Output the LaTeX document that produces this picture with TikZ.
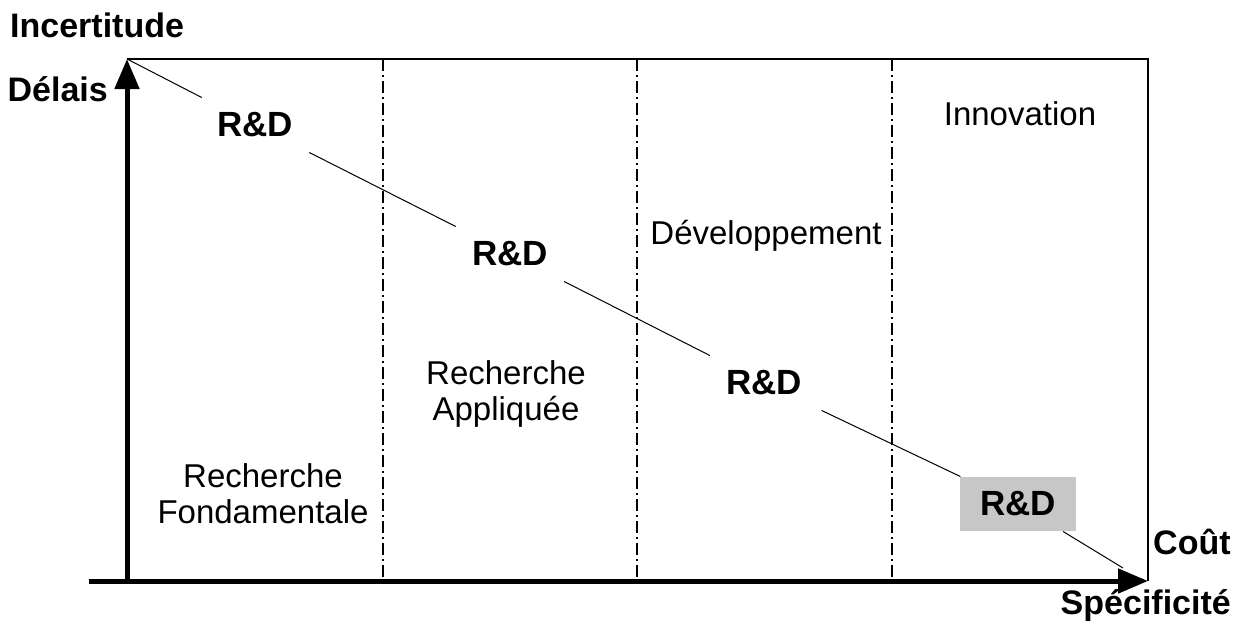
\documentclass[tikz,border=0pt]{standalone}
\usepackage{fontspec}
\setmainfont{Liberation Sans}
\usetikzlibrary{arrows.meta}
\tikzset{
  frame/.style={line width=2.4pt},
  sep/.style={line width=1.5pt, dash pattern=on 12pt off 4pt on 2pt off 4pt},
  axis/.style={line width=5pt, -{Triangle[length=30pt,width=24pt]}},
  diag/.style={line width=1pt},
  lbl/.style={font=\fontsize{33}{36}\selectfont, align=center, inner sep=0pt},
  blbl/.style={font=\fontsize{34}{36}\selectfont\bfseries, inner sep=0pt},
  rd/.style={font=\fontsize{35}{36}\selectfont\bfseries, inner xsep=20pt, inner ysep=15pt},
  rdgray/.style={rd, fill=black!22}
}
\begin{document}
\begin{tikzpicture}[x=1pt,y=-1pt]
\useasboundingbox (0,0) rectangle (1250,627);
\coordinate (tl) at (127,59);
\coordinate (tr) at (1148,59);
\coordinate (br) at (1148,581);
\coordinate (bl) at (127,581);
\coordinate (xs) at (89,581);
\coordinate (de) at (1123,568);
% frame
\draw[frame] (tl) -- (tr) -- (br);
% separators
\foreach \x/\n in {383/a,637/b,892/c}{
  \coordinate (s\n t) at (\x,59);
  \coordinate (s\n b) at (\x,581);
  \draw[sep] (s\n t) -- (s\n b);
}
% R&D nodes
\node[rd] (rd1) at (255,125) {R\&D};
\node[rd] (rd2) at (510,254) {R\&D};
\node[rd] (rd3) at (764,383) {R\&D};
\node[rdgray] (rd4) at (1018,504) {R\&D};
% diagonal
\draw[diag] (tl) -- (rd1);
\draw[diag] (rd1) -- (rd2);
\draw[diag] (rd2) -- (rd3);
\draw[diag] (rd3) -- (rd4);
\draw[diag] (rd4) -- (de);
% axes
\draw[axis] (xs) -- (br);
\draw[axis] (bl) -- (tl);
% phase labels
\node[lbl] (inno) at (1020,114) {Innovation};
\node[lbl] (dev) at (766,236) {Développement};
\node[lbl] (ra) at (506,394) {Recherche\\Appliquée};
\node[lbl] (rf) at (263,494) {Recherche\\Fondamentale};
% axis labels
\node[blbl, anchor=west] (inc) at (10,25) {Incertitude};
\node[blbl, anchor=east] (del) at (108,89) {Délais};
\node[blbl, anchor=west] (cout) at (1153,542) {Coût};
\node[blbl, anchor=east] (spec) at (1231,606) {Spécificité};
\end{tikzpicture}
\end{document}
